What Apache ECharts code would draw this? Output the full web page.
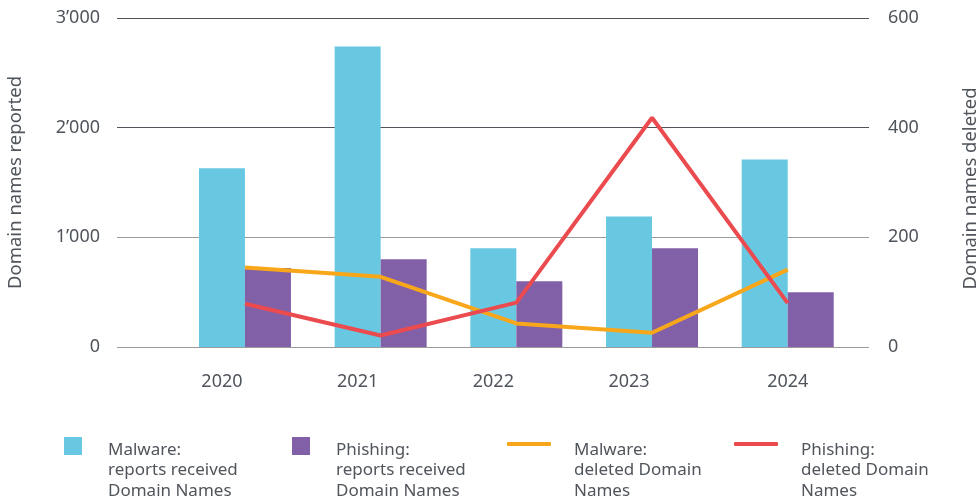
<!DOCTYPE html>
<html>
<head>
<meta charset="utf-8">
<script src="https://cdn.jsdelivr.net/npm/echarts@6/dist/echarts.min.js"></script>
<style>html,body{margin:0;padding:0;background:#fff}#c{width:979px;height:504px}</style>
</head>
<body>
<div id="c"></div>
<script>
const years = [2020, 2021, 2022, 2023, 2024];
const malwareReports = [1630, 2740, 900, 1190, 1710];
const phishingReports = [720, 800, 600, 900, 500];
const malwareDeleted = [145, 128, 43, 26, 141];
const phishingDeleted = [79, 21, 81, 418, 80];
const leftTicks = [0, 1000, 2000, 3000];
const rightTicks = [0, 200, 400, 600];
const seriesNames = [
  'Malware:\nreports received\nDomain Names',
  'Phishing:\nreports received\nDomain Names',
  'Malware:\ndeleted Domain\nNames',
  'Phishing:\ndeleted Domain\nNames'
];
const colors = ['#68C8E2', '#8260A8', '#F8A71B', '#EB4B4F'];

const FONT = '"Noto Sans", sans-serif';
const TXT = '#50555c';
const FS = 18;
const pair = (arr) => years.map((y, i) => [y, arr[i]]);
const fmt = (v) => String(v).replace(/\B(?=(\d{3})+(?!\d))/g, '\u2019');

const legendPos = [64, 292, 507, 734];
const LH = 20.5;
const legends = seriesNames.map((n, i) => {
  const isLine = i >= 2;
  const c = isLine ? 444 : 446;          // icon centre
  const firstLine = 450;                 // centre of first text line
  const gap = (firstLine - c) * 2 + 2 * LH; // height of leading spacer line
  const total = gap + 3 * LH;
  return {
    data: [n],
    left: legendPos[i],
    top: c - total / 2,
    icon: isLine ? 'roundRect' : 'rect',
    itemWidth: isLine ? 44 : 18,
    itemHeight: isLine ? 4 : 18,
    selectedMode: false,
    padding: 0,
    formatter: (name) => '{g| }\n' + name.split('\n').map(s => '{t|' + s + '}').join('\n'),
    textStyle: {
      fontFamily: FONT, fontSize: 17, color: TXT, lineHeight: LH,
      padding: [0, 0, 0, isLine ? 18 : 21],
      rich: {
        g: { fontSize: 2, lineHeight: gap, height: gap },
        t: { fontFamily: FONT, fontSize: 17, color: TXT, lineHeight: LH }
      }
    }
  };
});

const chart = echarts.init(document.getElementById('c'));
chart.setOption({
  animation: false,
  backgroundColor: '#fff',
  grid: { left: 117, right: 110, top: 18, bottom: 157, outerBoundsMode: 'none', containLabel: false },
  legend: legends,
  xAxis: {
    type: 'value',
    min: 2019.057,
    max: 2024.599,
    axisLine: { show: false },
    axisTick: { show: false },
    splitLine: { show: false },
    axisLabel: {
      customValues: years,
      margin: 26,
      fontFamily: FONT, fontSize: FS, color: TXT,
      formatter: (v) => (v === 2024 ? '{b|' + v + '}' : '{a|' + v + '}'),
      rich: {
        a: { fontFamily: FONT, fontSize: FS, color: TXT, padding: [0, 46, 0, 0] },
        b: { fontFamily: FONT, fontSize: FS, color: TXT }
      }
    }
  },
  yAxis: [
    {
      type: 'value', min: leftTicks[0], max: leftTicks[leftTicks.length - 1], interval: 1000,
      name: 'Domain names reported', nameLocation: 'middle', nameRotate: 90, nameGap: 92,
      nameTextStyle: { fontFamily: FONT, fontSize: 18.5, color: TXT },
      axisLine: { show: false }, axisTick: { show: false },
      axisLabel: { margin: 17, fontFamily: FONT, fontSize: FS, color: TXT, formatter: fmt },
      splitLine: { show: true, lineStyle: { width: 1, color: ['#9b9b9b', '#9b9b9b', '#4f545b', '#4f545b'] } }
    },
    {
      type: 'value', min: rightTicks[0], max: rightTicks[rightTicks.length - 1], interval: 200,
      name: 'Domain names deleted', nameLocation: 'middle', nameRotate: 90, nameGap: 92,
      nameTextStyle: { fontFamily: FONT, fontSize: 18.5, color: TXT, padding: [0, 12, 0, 0] },
      axisLine: { show: false }, axisTick: { show: false },
      axisLabel: { margin: 19, fontFamily: FONT, fontSize: FS, color: TXT },
      splitLine: { show: false }
    }
  ],
  series: [
    { name: seriesNames[0], type: 'bar', data: pair(malwareReports), barWidth: 46, barGap: '0%', itemStyle: { color: colors[0] } },
    { name: seriesNames[1], type: 'bar', data: pair(phishingReports), barWidth: 46, barGap: '0%', itemStyle: { color: colors[1] } },
    { name: seriesNames[2], type: 'line', yAxisIndex: 1, data: pair(malwareDeleted), symbol: 'none', lineStyle: { width: 4, color: colors[2] }, itemStyle: { color: colors[2] } },
    { name: seriesNames[3], type: 'line', yAxisIndex: 1, data: pair(phishingDeleted), symbol: 'none', lineStyle: { width: 4, color: colors[3] }, itemStyle: { color: colors[3] } }
  ]
});
</script>
</body>
</html>
